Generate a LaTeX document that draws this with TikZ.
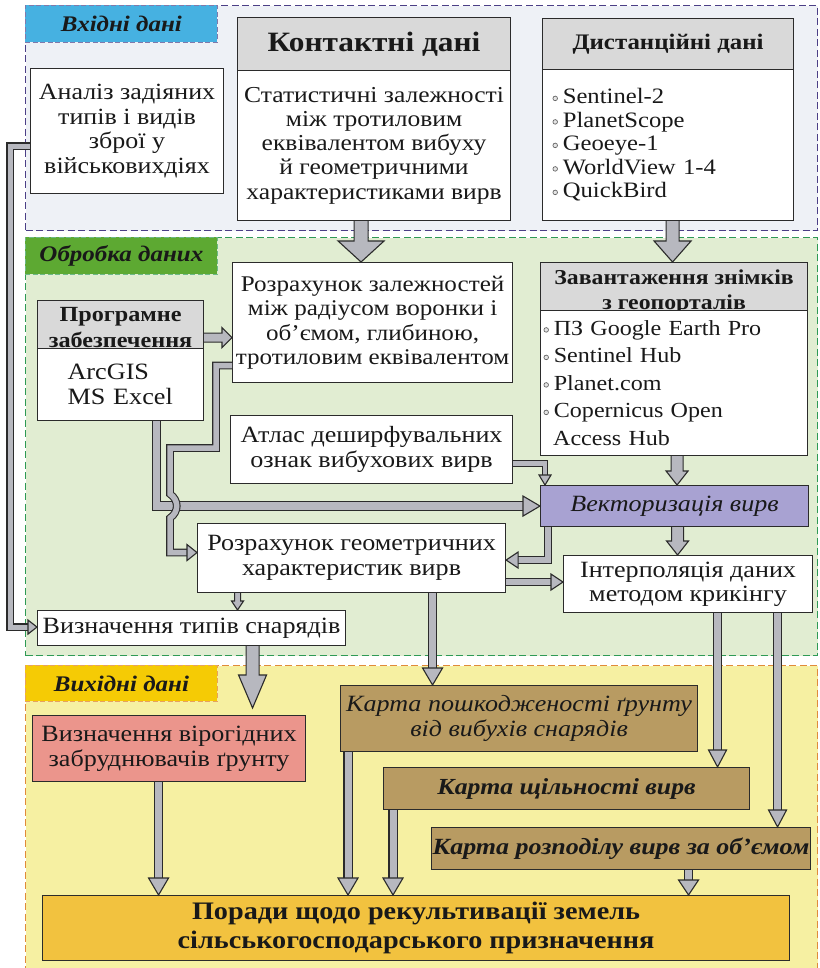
\documentclass[tikz,border=0pt]{standalone}
\usepackage{fontspec}
\setmainfont[FakeStretch=1.12]{Liberation Serif}
\usetikzlibrary{calc}
\definecolor{dk}{HTML}{2B2B2B}
\definecolor{inbg}{HTML}{EEF1F6}
\definecolor{inbd}{HTML}{4B3F86}
\definecolor{intab}{HTML}{46B1E1}
\definecolor{prbg}{HTML}{E1EDD2}
\definecolor{prbd}{HTML}{2E9A55}
\definecolor{prtab}{HTML}{5DA932}
\definecolor{oubg}{HTML}{F6F0A2}
\definecolor{oubd}{HTML}{E08A3A}
\definecolor{outab}{HTML}{F5CB05}
\definecolor{hdr}{HTML}{D9D9D9}
\definecolor{vec}{HTML}{A8A2D2}
\definecolor{salmon}{HTML}{EB958C}
\definecolor{brownk}{HTML}{B89B62}
\definecolor{goldk}{HTML}{F2C23F}
\definecolor{pipeg}{HTML}{B7B8BF}
\newcommand\fs[2]{\fontsize{#1}{#2}\selectfont}
\newcommand\bul{\tikz[baseline=-5.5pt]\draw[draw=gray!80!black,fill=gray!20,line width=0.7pt] (0,0) circle (2.3pt);\hspace{5pt}}
\newcommand\blockdown[5]{%
 \draw[blk] let \p1=#1, \p2=#2 in (\x1-#3pt,\y1) -- (\x1-#3pt,\y2+#5pt) -- (\x1-#4pt,\y2+#5pt) -- (\x1,\y2) -- (\x1+#4pt,\y2+#5pt) -- (\x1+#3pt,\y2+#5pt) -- (\x1+#3pt,\y1);}
\newcommand\blockright[5]{%
 \draw[blk] let \p1=#1, \p2=#2 in (\x1,\y1+#3pt) -- (\x2-#5pt,\y1+#3pt) -- (\x2-#5pt,\y1+#4pt) -- (\x2,\y1) -- (\x2-#5pt,\y1-#4pt) -- (\x2-#5pt,\y1-#3pt) -- (\x1,\y1-#3pt);}
\newcommand\pipehead[4]{\draw[headst, shift={#1}, rotate=#2] (0,0) -- (-#4,#3) -- (-#4,-#3) -- cycle;}
\begin{document}
\begin{tikzpicture}[x=1pt,y=-1pt,
 sect/.style={dashed, dash pattern=on 7pt off 3.5pt, line width=1.2pt, anchor=north west, inner sep=0pt, minimum width=792, text=black},
 tabk/.style={dashed, dash pattern=on 5pt off 2.5pt, line width=0.8pt, anchor=north west, inner sep=0pt, minimum width=192, font=\fs{22.3}{24}\bfseries\itshape, text=black!90},
 box/.style={draw=dk, line width=1.1pt, fill=white, align=center, inner sep=0pt, anchor=north west, font=\fs{23.3}{24.5}, text=black!90},
 htext/.style={anchor=base, inner sep=0pt, font=\fs{21.5}{24}\bfseries, text=black!90},
 blk/.style={fill=pipeg, draw=dk, line width=1.1pt, line join=miter},
 headst/.style={fill=pipeg, draw=dk, line width=1.1pt, line join=miter},
 pipe/.style={draw=dk, line width=1.1pt, double=pipeg, double distance=#1},
 pipe/.default=5.5pt]
\useasboundingbox (0,0) rectangle (819,968);
\fill[white] (0,0) rectangle (819,968);
% sections
\node[sect, draw=inbd, fill=inbg, minimum height=225] (secIn) at (25,5) {};
\node[sect, draw=prbd, fill=prbg, minimum height=418] (secProc) at (25,237) {};
\node[sect, draw=oubd, fill=oubg, minimum height=310] (secOut) at (25,665) {};
\node[tabk, draw=inbd!70, fill=intab, minimum height=37] (tabIn) at (25,5) {Вхідні дані};
\node[tabk, draw=prbd!70, fill=prtab, minimum height=37] (tabProc) at (25,237) {Обробка даних};
\node[tabk, draw=oubd!80, fill=outab, minimum height=36] (tabOut) at (25,665) {Вихідні дані};
% input nodes
\node[box, minimum width=193, minimum height=125, font=\fs{23.2}{24.7}] (analiz) at (30,68) {Аналіз задіяних\\типів і видів\\зброї у\\військовихдіях};
\node[box, fill=hdr, minimum width=273, minimum height=53, font=\fs{28}{30}\bfseries] (kontH) at (237,17) {Контактні дані};
\node[box, minimum width=273, minimum height=150, font=\fs{22.8}{24.3}] (kontB) at (237,70) {Статистичні залежності\\між тротиловим\\еквівалентом вибуху\\й геометричними\\характеристиками вирв};
\node[box, fill=hdr, minimum width=251, minimum height=51, font=\fs{22.2}{24}\bfseries] (distH) at (542,18) {Дистанційні дані};
\node[box, minimum width=251, minimum height=151, align=left, text width=231, inner xsep=10pt, font=\fs{22}{23.5}] (distB) at (542,69) {\bul Sentinel-2\\\bul PlanetScope\\\bul Geoeye-1\\\bul WorldView 1-4\\\bul QuickBird};
% processing nodes
\node[box, minimum width=280, minimum height=120, font=\fs{22.4}{24.5}] (rozr) at (232,262) {Розрахунок залежностей\\між радіусом воронки і\\об’ємом, глибиною,\\тротиловим еквівалентом};
\node[box, fill=hdr, minimum width=166, minimum height=48] (progH) at (37,300) {};
\node[htext, font=\fs{21.6}{24}\bfseries] (progHa) at ($(progH.south)+(0,-28)$) {Програмне};
\node[htext, font=\fs{21.6}{24}\bfseries] (progHb) at ($(progH.south)+(0,-1.5)$) {забезпечення};
\node[box, minimum width=166, minimum height=72, align=left, text width=136, inner xsep=15pt, font=\fs{23.4}{25.5}] (progB) at (37,348) {\hspace*{15pt}ArcGIS\\\hspace*{15pt}MS Excel};
\node[box, fill=hdr, minimum width=267, minimum height=48] (zavH) at (540,262) {};
\node[htext, font=\fs{21.2}{24}\bfseries] (zavHa) at ($(zavH.south)+(0,-27)$) {Завантаження знімків};
\node[htext, font=\fs{21.2}{24}\bfseries] (zavHb) at ($(zavH.south)+(0,-2)$) {з геопорталів};
\node[box, minimum width=267, minimum height=145, align=left, text width=261, inner xsep=3pt, font=\fs{21.5}{27.5}] (zavB) at (540,310) {\bul ПЗ Google Earth Pro\\\bul Sentinel Hub\\\bul Planet.com\\\bul Copernicus Open\\\hspace{9.6pt}Access Hub};
\node[box, minimum width=282, minimum height=68] (atlas) at (230,415) {Атлас деширфувальних\\ознак вибухових вирв};
\node[box, fill=vec, minimum width=268, minimum height=41, font=\fs{23.3}{24}\itshape] (vect) at (540,485) {Векторизація вирв};
\node[box, minimum width=308, minimum height=69] (rozg) at (197,523) {Розрахунок геометричних\\характеристик вирв};
\node[box, minimum width=249, minimum height=57] (interp) at (563,555) {Інтерполяція даних\\методом крикінгу};
\node[box, minimum width=308, minimum height=35] (visz) at (37,610) {Визначення типів снарядів};
% output nodes
\node[box, fill=salmon, minimum width=273, minimum height=66] (virog) at (32,715) {Визначення вірогідних\\забруднювачів ґрунту};
\node[box, fill=brownk, minimum width=357, minimum height=66, font=\fs{23.3}{25}\itshape] (kartaP) at (340,685) {Карта пошкодженості ґрунту\\від вибухів снарядів};
\node[box, fill=brownk, minimum width=366, minimum height=42, font=\fs{23}{24}\bfseries\itshape] (kartaS) at (383,767) {Карта щільності вирв};
\node[box, fill=brownk, minimum width=379, minimum height=42, font=\fs{23.2}{24}\bfseries\itshape] (kartaR) at (431,827) {Карта розподілу вирв за об’ємом};
\node[box, fill=goldk, minimum width=747, minimum height=65, font=\fs{25.2}{28.5}\bfseries] (porady) at (42,895) {Поради щодо рекультивації земель\\сільськогосподарського призначення};
% block arrows
\blockdown{($(kontB.south)+(-13,0)$)}{(rozr.north)}{7}{23}{21}
\blockdown{($(distB.south)+(4.5,0)$)}{(zavH.north)}{6.5}{18.5}{21}
\blockright{($(progH.east)+(0,13)$)}{(rozr.west)}{4.5}{10}{10}
\blockdown{($(zavB.south)+(3,0)$)}{(vect.north)}{6}{11}{14}
\blockdown{($(vect.south)+(3,0)$)}{(interp.north)}{6}{11}{14}
\blockdown{($(rozg.south)+(-114,0)$)}{(visz.north)}{3}{6}{9}
\blockdown{($(visz.south)+(61,0)$)}{($(virog.north)+(0,-7)$)}{6.5}{14}{33}
% pipes
\draw[pipe=5pt] ($(analiz.west)+(0,15)$) -- ++(-20,0) |- ($(visz.west)+(-7,-1)$);
\pipehead{($(visz.west)+(0,-1)$)}{0}{7}{9}
\draw[pipe=7.5pt] ($(progB.south)+(36,0)$) |- ($(vect.west)+(-15,0)$);
\pipehead{(vect.west)}{0}{10}{17}
\draw[pipe=5.5pt] ($(rozr.west)+(0,43)$) -| (216,448) -| (170,494) .. controls (179,500) and (179,512) .. (170,518) |- ($(rozg.west)+(-9,-5.5)$);
\pipehead{($(rozg.west)+(0,-5.5)$)}{0}{8}{10}
\draw[pipe=4.5pt] ($(atlas.east)+(0,14)$) -| ($(vect.north west)+(5,-9)$);
\pipehead{($(vect.north west)+(5,0)$)}{-90}{6}{10}
\draw[pipe=6pt] ($(vect.south west)+(8,0)$) |- ($(rozg.east)+(11,2)$);
\pipehead{($(rozg.east)+(0,2)$)}{180}{8}{12}
\coordinate (rgOut) at ($(rozg.east)+(0,24)$);
\draw[pipe=6pt] (rgOut) -- ($(rgOut -| interp.west)+(-11,0)$);
\pipehead{(rgOut -| interp.west)}{0}{8}{12}
\coordinate (rgP) at ($(rozg.south)+(81,0)$);
\draw[pipe=7pt] (rgP) -- ($(rgP |- kartaP.north)+(0,-16)$);
\pipehead{(rgP |- kartaP.north)}{-90}{10}{17}
\coordinate (ipS) at ($(interp.south)+(29.5,0)$);
\draw[pipe=7pt] (ipS) -- ($(ipS |- kartaS.north)+(0,-16)$);
\pipehead{(ipS |- kartaS.north)}{-90}{9}{17}
\coordinate (ipR) at ($(interp.south)+(89.5,0)$);
\draw[pipe=7pt] (ipR) -- ($(ipR |- kartaR.north)+(0,-16)$);
\pipehead{(ipR |- kartaR.north)}{-90}{9}{17}
\coordinate (vgO) at ($(virog.south)+(-10.5,0)$);
\draw[pipe=7pt] (vgO) -- ($(vgO |- porady.north)+(0,-16)$);
\pipehead{(vgO |- porady.north)}{-90}{10}{17}
\coordinate (kpO) at ($(kartaP.south west)+(8,0)$);
\draw[pipe=7pt] (kpO) -- ($(kpO |- porady.north)+(0,-16)$);
\pipehead{(kpO |- porady.north)}{-90}{10}{17}
\coordinate (ksO) at ($(kartaS.south west)+(10,0)$);
\draw[pipe=7pt] (ksO) -- ($(ksO |- porady.north)+(0,-16)$);
\pipehead{(ksO |- porady.north)}{-90}{10}{17}
\coordinate (krO) at ($(kartaR.south)+(67.5,0)$);
\draw[pipe=7pt] (krO) -- ($(krO |- porady.north)+(0,-14)$);
\pipehead{(krO |- porady.north)}{-90}{10}{15}
\end{tikzpicture}
\end{document}
